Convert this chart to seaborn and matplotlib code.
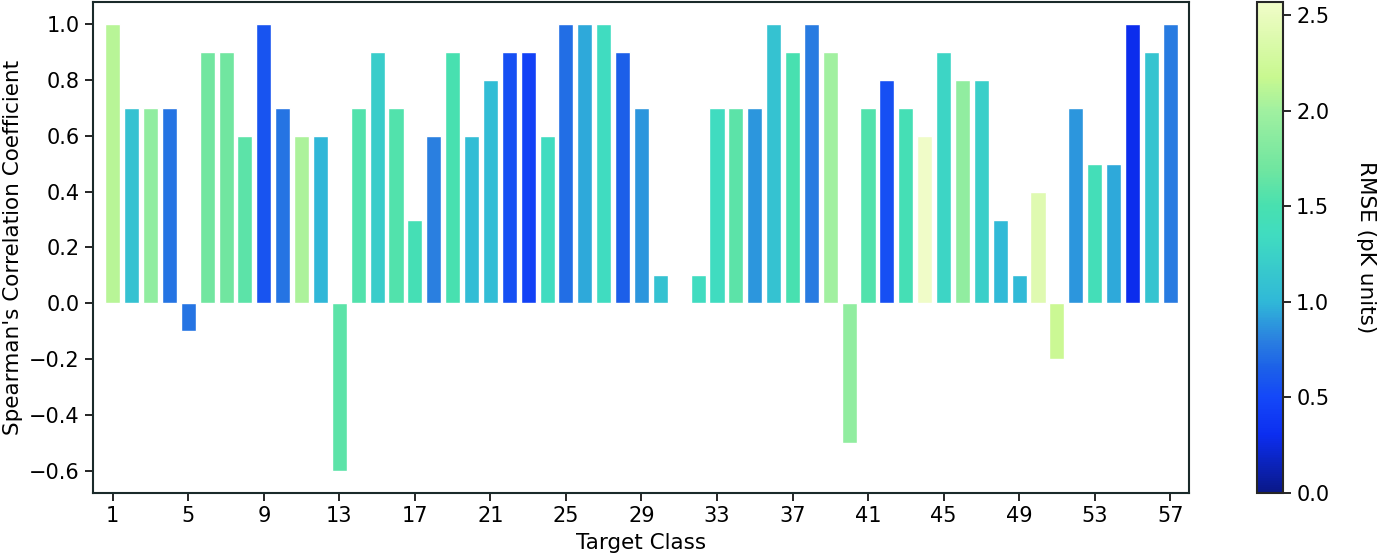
import matplotlib
matplotlib.use("Agg")
import matplotlib.pyplot as plt
import matplotlib.colors as mcolors
import seaborn as sns
import numpy as np
import pandas as pd

sns.set_theme(style="ticks", rc={'text.color': 'black', 'axes.labelcolor': 'black',
                                 'xtick.color': 'black', 'ytick.color': 'black'})
plt.rcParams['font.family'] = ['DejaVu Sans']

# Spearman correlation per target class
target_class = [str(i) for i in range(1, 58)]
spearman = [1.0, 0.7, 0.7, 0.7, -0.1, 0.9, 0.9, 0.6, 1.0, 0.7,
            0.6, 0.6, -0.6, 0.7, 0.9, 0.7, 0.3, 0.6, 0.9, 0.6,
            0.8, 0.9, 0.9, 0.6, 1.0, 1.0, 1.0, 0.9, 0.7, 0.1,
            0.0, 0.1, 0.7, 0.7, 0.7, 1.0, 0.9, 1.0, 0.9, -0.5,
            0.7, 0.8, 0.7, 0.6, 0.9, 0.8, 0.8, 0.3, 0.1, 0.4,
            -0.2, 0.7, 0.5, 0.5, 1.0, 0.9, 1.0]

# RMSE (pK units) per class
rmse = [2.10, 1.10, 1.90, 0.75, 0.75, 1.70, 1.70, 1.60, 0.58, 0.75,
        2.05, 1.00, 1.60, 1.55, 1.20, 1.55, 1.45, 0.80, 1.50, 1.05,
        1.05, 0.55, 0.45, 1.35, 0.72, 0.95, 1.35, 0.65, 0.88, 1.10,
        1.40, 1.35, 1.35, 1.60, 0.88, 1.10, 1.50, 0.78, 2.00, 1.90,
        1.55, 0.55, 1.45, 2.57, 1.28, 1.90, 1.22, 1.02, 1.02, 2.40,
        2.20, 0.88, 1.42, 0.95, 0.30, 1.12, 0.78]

# colour ramp sampled from the colour bar
ramp_pos = [0.0, 0.3, 0.5, 0.65, 0.8, 1.0, 1.35, 1.5, 1.7, 2.0, 2.18, 2.57]
ramp_col = ['#0a1888', '#0c2ef0', '#1448f8', '#1c60e8', '#2a80e0', '#30b8d8',
            '#40dcc0', '#48e0b0', '#70e6a0', '#a0f0a0', '#c8f890', '#f0fcc8']

vmax = 2.57
cmap = mcolors.LinearSegmentedColormap.from_list(
    "rmse", [(p / vmax, c) for p, c in zip(ramp_pos, ramp_col)])
norm = mcolors.Normalize(vmin=0, vmax=vmax)
bar_colors = [cmap(norm(v)) for v in rmse]

df = pd.DataFrame({'Target Class': target_class, 'Spearman': spearman})

fig = plt.figure(figsize=(13.81, 5.57), dpi=100)
ax = fig.add_axes([0.0673, 0.115, 0.7937, 0.8814])
cax = fig.add_axes([0.9102, 0.115, 0.0188, 0.8814])

sns.barplot(data=df, x='Target Class', y='Spearman', hue='Target Class',
            palette=bar_colors, legend=False, width=0.8,
            edgecolor='white', linewidth=1.0, saturation=1, ax=ax)

ax.set_xlim(-1.05, 57)
ax.set_ylim(-0.68, 1.08)
ax.set_xticks(range(0, 57, 4))
ax.set_xticklabels(target_class[::4])
yt = np.arange(-0.6, 1.01, 0.2)
ax.set_yticks(yt)
ax.set_yticklabels([f"{t:.1f}".replace('-', '\u2212') for t in yt])
ax.set_xlabel('Target Class', fontsize=15.5, labelpad=5)
ax.set_ylabel("Spearman's Correlation Coefficient", fontsize=15.5, labelpad=4)
ax.tick_params(axis='both', labelsize=15, length=6, width=1.2)
for s in ax.spines.values():
    s.set_color('#1a2a2a')
    s.set_linewidth(1.5)

sm = plt.cm.ScalarMappable(cmap=cmap, norm=norm)
cb = fig.colorbar(sm, cax=cax)
cb.set_ticks([0.0, 0.5, 1.0, 1.5, 2.0, 2.5])
cb.ax.tick_params(labelsize=15, length=6, width=1.2)
cb.outline.set_linewidth(1.5)
cb.set_label('RMSE (pK units)', fontsize=15.5, rotation=270, labelpad=34)

fig.savefig('out.png', dpi=100)
